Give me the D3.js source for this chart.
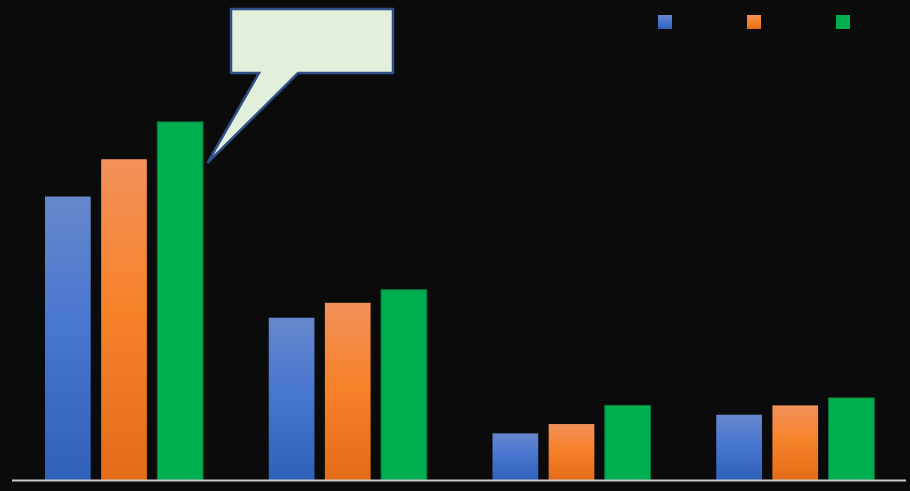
<!DOCTYPE html>
<html>
<head>
<meta charset="utf-8">
<script src="https://cdn.jsdelivr.net/npm/d3@7"></script>
<style>
  html, body { margin: 0; padding: 0; background: #0b0b0b; }
  svg { display: block; }
</style>
</head>
<body>
<div id="chart"></div>
<script>
// groups and series
const categories = ["A", "B", "C", "D"];
const seriesNames = ["s1", "s2", "s3"];
const series1 = [7.6, 4.35, 1.25, 1.75];
const series2 = [8.6, 4.75, 1.5, 2.0];
const series3 = [9.6, 5.1, 2.0, 2.2];

const width = 910;
const height = 491;

const svg = d3.select("#chart")
    .append("svg")
    .attr("width", width)
    .attr("height", height);

svg.append("rect")
    .attr("width", width).attr("height", height)
    .attr("fill", "#0b0b0b");

//----------------------------GRADIENTS----------------------------//
const defs = svg.append("defs");
function grad(id, top, mid, bottom){
    const g = defs.append("linearGradient")
        .attr("id", id)
        .attr("x1", 0).attr("y1", 0).attr("x2", 0).attr("y2", 1);
    g.append("stop").attr("offset", "0%").attr("stop-color", top);
    g.append("stop").attr("offset", "45%").attr("stop-color", mid);
    g.append("stop").attr("offset", "100%").attr("stop-color", bottom);
}
grad("gBlue", "#6688cc", "#4876d0", "#3061ba");
grad("gOrange", "#f2915a", "#f7822c", "#e46c18");

const fills = ["url(#gBlue)", "url(#gOrange)", "#00b050"];
const strokes = ["none", "none", "#0b7a3c"];

//-----------------------------SCALES------------------------------//
const x0 = d3.scaleBand().domain(categories).range([12, 907]);
const x1 = d3.scaleBand().domain(seriesNames)
    .range([33, 191]).paddingInner(0.186);
const y = d3.scaleLinear().domain([0, 12]).range([480, 32.4]);

const data = categories.map((c, i) => ({
    cat: c,
    values: [series1[i], series2[i], series3[i]]
}));

//------------------------------BARS-------------------------------//
const groups = svg.selectAll(".grp")
    .data(data)
    .enter().append("g")
    .attr("class", "grp")
    .attr("transform", d => "translate(" + x0(d.cat) + ",0)");

groups.selectAll("rect")
    .data(d => d.values.map((v, j) => ({ key: seriesNames[j], v: v, j: j })))
    .enter().append("rect")
    .attr("x", d => x1(d.key))
    .attr("width", x1.bandwidth())
    .attr("y", d => y(d.v))
    .attr("height", d => y(0) - y(d.v))
    .attr("fill", d => fills[d.j])
    .attr("stroke", d => strokes[d.j])
    .attr("stroke-width", 1);

// baseline
const xAxis = d3.axisBottom(x0).tickSize(0).tickFormat("");
svg.append("g")
    .attr("transform", "translate(0," + y(0) + ")")
    .call(xAxis)
    .call(g => g.select(".domain")
        .attr("stroke", "#c8c8c8")
        .attr("stroke-width", 2)
        .attr("d", "M12,0.5H906"));

//-----------------------------LEGEND------------------------------//
const legend = svg.append("g");
legend.selectAll("rect")
    .data(seriesNames)
    .enter().append("rect")
    .attr("x", (d, i) => 658 + i * 89)
    .attr("y", 15)
    .attr("width", 14)
    .attr("height", 14)
    .attr("fill", (d, i) => fills[i]);

//-----------------------------CALLOUT-----------------------------//
// pointer tip sits just right of the tallest bar in the first group
const tipX = x0(categories[0]) + x1(seriesNames[2]) + x1.bandwidth() + 4.5;
const tipY = y(series3[0]) + 41;
const bx = 231, by = 9, bw = 162, bh = 64;
svg.append("path")
    .attr("d", "M" + bx + "," + by +
        "H" + (bx + bw) + "V" + (by + bh) +
        "H298L" + tipX + "," + tipY +
        "L259," + (by + bh) + "H" + bx + "Z")
    .attr("fill", "#e2efda")
    .attr("stroke", "#2f4f86")
    .attr("stroke-width", 2.5)
    .attr("stroke-linejoin", "miter");
</script>
</body>
</html>
